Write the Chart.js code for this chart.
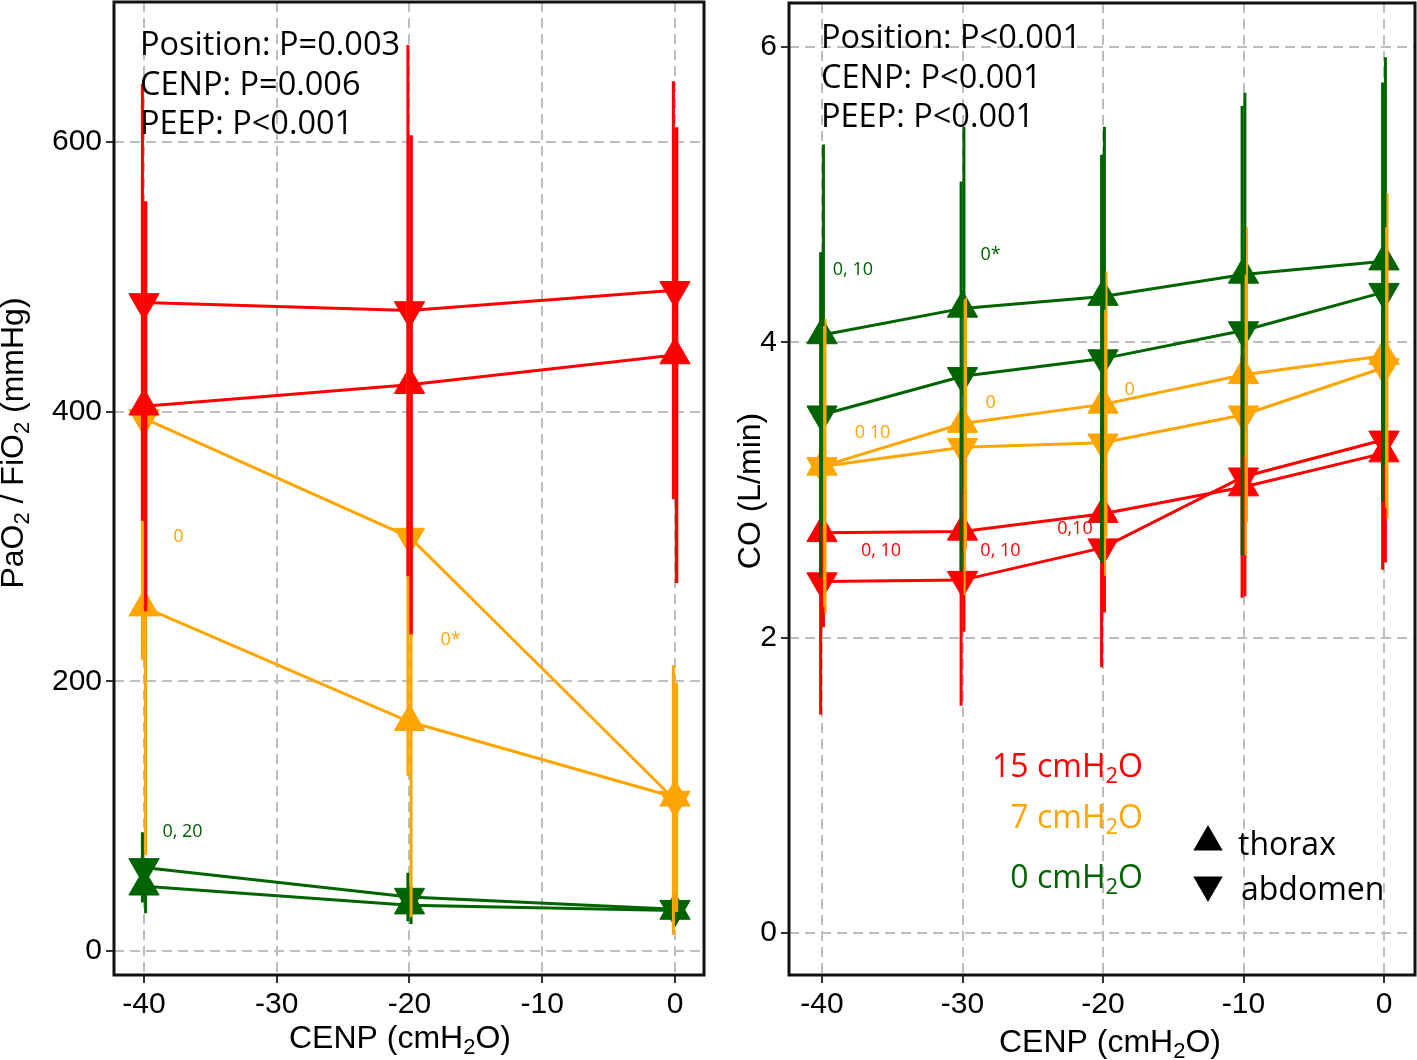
<!DOCTYPE html>
<html><head><meta charset="utf-8">
<script src="https://cdn.jsdelivr.net/npm/chart.js@4.4.1/dist/chart.umd.min.js"></script>
<style>
html,body{margin:0;padding:0;background:#fff;}
body{width:1417px;height:1060px;position:relative;overflow:hidden;}
#left{position:absolute;left:0;top:0;}
#right{position:absolute;left:720px;top:0;}
</style></head><body>
<canvas id="left" width="720" height="1060"></canvas>
<canvas id="right" width="697" height="1060"></canvas>
<script>
// ---------------- DATA ----------------
const cenpLeft = [-40, -20, 0];
const cenpRight = [-40, -30, -20, -10, 0];
const xTickValues = [-40, -30, -20, -10, 0];
const pfTickValues = [0, 200, 400, 600];
const coTickValues = [0, 2, 4, 6];

// PaO2/FiO2 (mmHg), mean and SD
const pfThorax15 = [404, 420, 442];
const pfThorax15Sd = [152, 185, 169];
const pfAbdomen15 = [481, 475, 490];
const pfAbdomen15Sd = [162, 197, 155];
const pfThorax7 = [255, 170, 114];
const pfThorax7Sd = [184, 145, 85];
const pfAbdomen7 = [395, 307, 112];
const pfAbdomen7Sd = [179, 177, 100];
const pfThorax0 = [48, 34, 30];
const pfThorax0Sd = [20, 14, 8];
const pfAbdomen0 = [62, 40, 31];
const pfAbdomen0Sd = [26, 18, 10];

// CO (L/min), mean and SD
const coThorax15 = [2.71, 2.72, 2.84, 3.02, 3.25];
const coThorax15Sd = [0.64, 0.68, 0.67, 0.74, 0.74];
const coAbdomen15 = [2.38, 2.39, 2.61, 3.09, 3.34];
const coAbdomen15Sd = [0.90, 0.85, 0.81, 0.82, 0.88];
const coThorax7 = [3.16, 3.45, 3.58, 3.78, 3.91];
const coThorax7Sd = [1.00, 0.85, 0.90, 1.00, 1.10];
const coAbdomen7 = [3.16, 3.29, 3.32, 3.51, 3.83];
const coAbdomen7Sd = [0.95, 1.00, 0.90, 0.95, 0.95];
const coThorax0 = [4.05, 4.23, 4.31, 4.46, 4.55];
const coThorax0Sd = [1.29, 1.23, 1.15, 1.23, 1.38];
const coAbdomen0 = [3.51, 3.77, 3.89, 4.08, 4.34];
const coAbdomen0Sd = [1.10, 1.32, 1.38, 1.52, 1.42];

// statistics text
const leftStatText = ['Position: P=0.003', 'CENP: P=0.006', 'PEEP: P<0.001'];
const rightStatText = ['Position: P<0.001', 'CENP: P<0.001', 'PEEP: P<0.001'];

// significance notes (text, CENP, value, PEEP group)
const leftNoteText = ['0', '0*', '0, 20'];
const leftNoteX = [-37.4, -16.9, -37.1];
const leftNoteY = [307, 231, 88];
const leftNotePeep = [7, 7, 0];
const rightNoteText = ['0, 10', '0*', '0 10', '0', '0', '0, 10', '0, 10', '0,10'];
const rightNoteX = [-37.8, -28.0, -36.4, -28.0, -18.1, -35.8, -27.3, -22.0];
const rightNoteY = [4.49, 4.59, 3.39, 3.59, 3.68, 2.59, 2.59, 2.74];
const rightNotePeep = [0, 0, 7, 7, 7, 15, 15, 15];

const peepLevels = [15, 7, 0];
const positionLabels = ['thorax', 'abdomen'];

// ---------------- STYLE ----------------
const COLORS = {15: '#ff0000', 7: '#ffa500', 0: '#006400'};
const GRID = '#bdbdbd';
const AXFONT = '"Liberation Sans", Arial, sans-serif';
const TXFONT = '"Open Sans", "Noto Sans", sans-serif';

function drawRich(ctx, parts, x, y, align, size, family, color) {
  ctx.save();
  ctx.fillStyle = color;
  ctx.textBaseline = 'alphabetic';
  ctx.textAlign = 'left';
  const fonts = parts.map(p => (p[1] ? Math.round(size * 0.68) : size) + 'px ' + family);
  const widths = parts.map((p, i) => { ctx.font = fonts[i]; return ctx.measureText(p[0]).width; });
  const total = widths.reduce((a, b) => a + b, 0);
  let cx = align === 'center' ? x - total / 2 : align === 'right' ? x - total : x;
  parts.forEach((p, i) => {
    ctx.font = fonts[i];
    ctx.fillText(p[0], cx, y + (p[1] ? size * 0.2 : 0));
    cx += widths[i];
  });
  ctx.restore();
}

function triangle(ctx, cx, cy, r, up) {
  ctx.beginPath();
  for (let k = 0; k < 3; k++) {
    const a = (up ? 0 : Math.PI) + k * 2 * Math.PI / 3;
    const px = cx + Math.sin(a) * r, py = cy - Math.cos(a) * r;
    if (k === 0) ctx.moveTo(px, py); else ctx.lineTo(px, py);
  }
  ctx.closePath();
  ctx.fill();
}

function seriesSets(xs, mean, sd, peep, up, dodge, lineOrder, barOrder, barWidth) {
  const color = COLORS[peep];
  return [
    {
      data: xs.map((x, i) => ({x: x, y: mean[i]})),
      borderColor: color, backgroundColor: color, borderWidth: 3,
      pointStyle: 'triangle', pointRotation: up ? 0 : 180,
      pointRadius: 17.5, pointHoverRadius: 17.5, pointBorderWidth: 1,
      order: lineOrder, clip: false
    },
    {
      data: xs.flatMap((x, i) => [
        {x: x + dodge, y: mean[i] - sd[i]},
        {x: x + dodge, y: mean[i] + sd[i]},
        {x: x + dodge, y: null}
      ]),
      borderColor: color, backgroundColor: color, borderWidth: barWidth,
      pointRadius: 0, pointHoverRadius: 0, spanGaps: false,
      order: barOrder
    }
  ];
}

function makeScales(xmin, xmax, ymin, ymax, yTicks, yWidth) {
  const tickFont = {family: AXFONT, size: 30};
  const common = {
    type: 'linear',
    grid: {color: GRID, lineWidth: 2, tickColor: '#333', tickLength: 8, tickWidth: 2},
    border: {display: false, dash: [10, 6]},
  };
  return {
    x: Object.assign({}, common, {
      min: xmin, max: xmax,
      afterBuildTicks: s => { s.ticks = xTickValues.map(v => ({value: v})); },
      afterFit: s => { s.height = 85; s.paddingLeft = 0; s.paddingRight = 0; },
      ticks: {font: tickFont, color: '#000', padding: 4, maxRotation: 0, autoSkip: false}
    }),
    y: Object.assign({}, common, {
      min: ymin, max: ymax,
      afterBuildTicks: s => { s.ticks = yTicks.map(v => ({value: v})); },
      afterFit: s => { s.width = yWidth; s.paddingTop = 0; s.paddingBottom = 0; },
      ticks: {font: tickFont, color: '#000', padding: 4}
    })
  };
}

function overlay(cfg) {
  return {
    id: 'overlay',
    afterDraw(chart) {
      const ctx = chart.ctx, ca = chart.chartArea;
      const xs = chart.scales.x, ys = chart.scales.y;
      // stat text
      ctx.save();
      ctx.font = '32.5px ' + TXFONT;
      ctx.fillStyle = '#000';
      ctx.textBaseline = 'alphabetic';
      cfg.stat.forEach((t, i) => ctx.fillText(t, cfg.statX, cfg.statY[i]));
      // notes
      ctx.font = '18px ' + TXFONT;
      ctx.textAlign = 'center';
      ctx.textBaseline = 'middle';
      cfg.notes.text.forEach((t, i) => {
        ctx.fillStyle = COLORS[cfg.notes.peep[i]];
        ctx.fillText(t, xs.getPixelForValue(cfg.notes.x[i]), ys.getPixelForValue(cfg.notes.y[i]));
      });
      // box
      ctx.strokeStyle = '#111';
      ctx.lineWidth = 3;
      ctx.strokeRect(ca.left, ca.top, ca.right - ca.left, ca.bottom - ca.top);
      ctx.restore();
      // axis titles
      drawRich(ctx, [['CENP (cmH', 0], ['2', 1], ['O)', 0]], cfg.xTitleX, cfg.xTitleY, 'center', 32, AXFONT, '#000');
      ctx.save();
      ctx.translate(cfg.yTitleX, cfg.yTitleY);
      ctx.rotate(-Math.PI / 2);
      drawRich(ctx, cfg.yTitle, 0, 0, 'center', 32, AXFONT, '#000');
      ctx.restore();
      if (cfg.legend) cfg.legend(ctx);
    }
  };
}

function build() {
  // ---------- LEFT CHART ----------
  const leftSets = [].concat(
    seriesSets(cenpLeft, pfAbdomen0, pfAbdomen0Sd, 0, false, -0.12, 60, 30, 3),
    seriesSets(cenpLeft, pfThorax0, pfThorax0Sd, 0, true, 0.12, 60, 30, 3),
    seriesSets(cenpLeft, pfAbdomen7, pfAbdomen7Sd, 7, false, -0.12, 50, 20, 3),
    seriesSets(cenpLeft, pfThorax7, pfThorax7Sd, 7, true, 0.12, 50, 20, 3),
    seriesSets(cenpLeft, pfAbdomen15, pfAbdomen15Sd, 15, false, -0.12, 40, 10, 3),
    seriesSets(cenpLeft, pfThorax15, pfThorax15Sd, 15, true, 0.12, 40, 10, 3.5)
  );
  new Chart(document.getElementById('left'), {
    type: 'line',
    data: {datasets: leftSets},
    options: {
      responsive: false, animation: false, events: [],
      layout: {autoPadding: false, padding: {left: 0, right: 16, top: 2, bottom: 0}},
      plugins: {legend: {display: false}, tooltip: {enabled: false}},
      scales: makeScales(-42.26, 2.185, -17.8, 703.8, pfTickValues, 114)
    },
    plugins: [overlay({
      stat: leftStatText, statX: 140, statY: [55, 95, 134],
      notes: {text: leftNoteText, x: leftNoteX, y: leftNoteY, peep: leftNotePeep},
      xTitleX: 400, xTitleY: 1048,
      yTitleX: 23, yTitleY: 443,
      yTitle: [['PaO', 0], ['2', 1], [' / FiO', 0], ['2', 1], [' (mmHg)', 0]]
    })]
  });

  // ---------- RIGHT CHART ----------
  const rightSets = [].concat(
    seriesSets(cenpRight, coAbdomen15, coAbdomen15Sd, 15, false, -0.1, 60, 30, 3),
    seriesSets(cenpRight, coThorax15, coThorax15Sd, 15, true, 0.1, 60, 30, 3),
    seriesSets(cenpRight, coAbdomen7, coAbdomen7Sd, 7, false, 0.15, 50, 10, 2),
    seriesSets(cenpRight, coThorax7, coThorax7Sd, 7, true, 0.25, 50, 10, 2),
    seriesSets(cenpRight, coAbdomen0, coAbdomen0Sd, 0, false, -0.1, 40, 20, 3),
    seriesSets(cenpRight, coThorax0, coThorax0Sd, 0, true, 0.1, 40, 20, 3)
  );
  new Chart(document.getElementById('right'), {
    type: 'line',
    data: {datasets: rightSets},
    options: {
      responsive: false, animation: false, events: [],
      layout: {autoPadding: false, padding: {left: 0, right: 2, top: 3, bottom: 0}},
      plugins: {legend: {display: false}, tooltip: {enabled: false}},
      scales: makeScales(-42.35, 2.206, -0.284, 6.298, coTickValues, 69)
    },
    plugins: [overlay({
      stat: rightStatText, statX: 101, statY: [48, 88, 127],
      notes: {text: rightNoteText, x: rightNoteX, y: rightNoteY, peep: rightNotePeep},
      xTitleX: 390, xTitleY: 1052,
      yTitleX: 40, yTitleY: 491,
      yTitle: [['CO (L/min)', 0]],
      legend: ctx => {
        const baseY = [777, 828, 888];
        peepLevels.forEach((p, i) => {
          drawRich(ctx, [[p + ' cmH', 0], ['2', 1], ['O', 0]], 423, baseY[i], 'right', 32, TXFONT, COLORS[p]);
        });
        ctx.save();
        ctx.fillStyle = '#000';
        triangle(ctx, 488, 842, 17, true);
        triangle(ctx, 488, 885, 17, false);
        ctx.font = '32px ' + TXFONT;
        ctx.textBaseline = 'alphabetic';
        ctx.fillText(positionLabels[0], 518, 855);
        ctx.fillText(positionLabels[1], 521, 900);
        ctx.restore();
      }
    })]
  });
}

const fontLoads = [
  '32px "Open Sans"', '18px "Open Sans"', '30px "Liberation Sans"', '32px "Liberation Sans"'
].map(f => document.fonts.load(f).catch(() => null));
Promise.race([Promise.all(fontLoads), new Promise(r => setTimeout(r, 1500))]).then(build);
</script>
</body></html>
